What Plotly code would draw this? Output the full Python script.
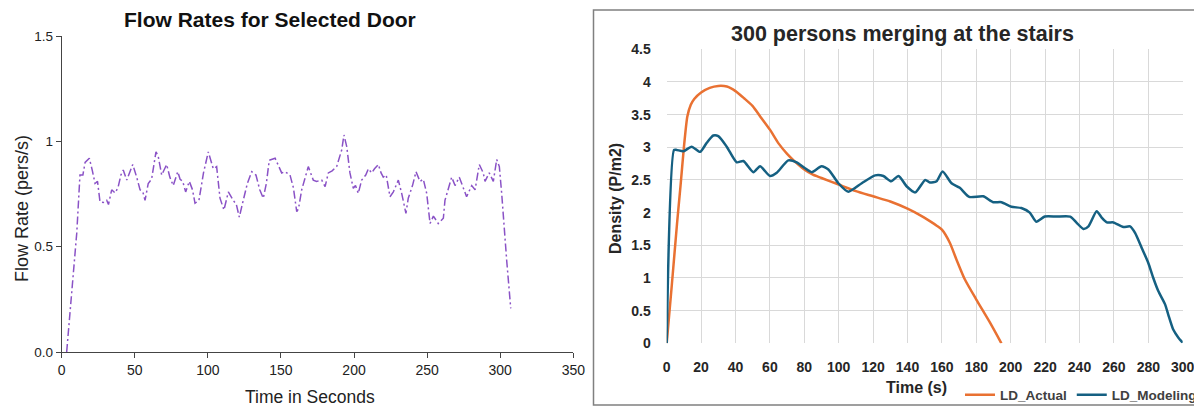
import plotly.graph_objects as go

# ---------------- Left chart data: Flow Rates for Selected Door ----------------
flow_time = [3.4, 10.3, 12.5, 14.5, 16, 18.9, 21, 22.8, 24.5, 26.2, 28.5, 30.8, 32, 34.2, 36.5,
             38.5, 40.5, 42.1, 44.5, 46.5, 48.6, 51.3, 53.6, 55.5, 57, 59.2, 61.5, 64.5, 66,
             68.4, 71.8, 74, 76.3, 79.4, 81, 82.8, 84.8, 87.3, 89.5, 91.2, 93.9, 97, 100.3,
             103.7, 106, 108.3, 111, 114, 115.5, 117.4, 119.5, 121.5, 124.2, 127, 130, 132.9,
             135.5, 137.9, 140, 142, 146, 148.5, 150.5, 152.8, 156.2, 158.5, 160.8, 162, 164.2,
             168.7, 172.1, 174.4, 177.9, 180.2, 182.4, 185, 188.1, 191.6, 193.1, 195, 197.2,
             199.5, 201, 202.9, 205.2, 208, 209.8, 212.1, 214, 216.6, 218.5, 220, 222, 224.6,
             226.9, 230.3, 232.6, 235.5, 237.1, 240, 242.4, 245.1, 247.4, 249.7, 252, 254.3,
             257.6, 261.1, 262.2, 266.8, 269.1, 272, 274.3, 277, 280.5, 282.8, 285.7, 288.4,
             289.6, 292.5, 295.3, 297.6, 299.4, 301, 304.4, 307.2]
flow_rate = [0, 0.565, 0.84, 0.84, 0.9, 0.92, 0.86, 0.80, 0.81, 0.713, 0.71, 0.72, 0.70, 0.77, 0.755,
             0.78, 0.84, 0.864, 0.816, 0.85, 0.89, 0.83, 0.77, 0.76, 0.72, 0.80, 0.82, 0.95, 0.93,
             0.84, 0.89, 0.83, 0.79, 0.856, 0.82, 0.81, 0.76, 0.81, 0.77, 0.706, 0.72, 0.85, 0.95,
             0.87, 0.88, 0.73, 0.674, 0.76, 0.74, 0.72, 0.70, 0.64, 0.72, 0.80, 0.856, 0.84,
             0.77, 0.73, 0.80, 0.91, 0.92, 0.88, 0.85, 0.856, 0.84, 0.78, 0.666, 0.68, 0.77,
             0.88, 0.816, 0.81, 0.816, 0.785, 0.85, 0.86, 0.88, 0.96, 1.03, 0.975, 0.85,
             0.777, 0.79, 0.753, 0.816, 0.84, 0.87, 0.85, 0.87, 0.89, 0.85, 0.83, 0.84, 0.737,
             0.76, 0.816, 0.753, 0.658, 0.73, 0.79, 0.856, 0.81, 0.82, 0.753, 0.61, 0.645,
             0.61, 0.635, 0.72, 0.83, 0.79, 0.83, 0.785, 0.737, 0.79, 0.77, 0.89, 0.85,
             0.81, 0.85, 0.81, 0.914, 0.88, 0.753, 0.437, 0.207]
flow_xticks = [0, 50, 100, 150, 200, 250, 300, 350]
flow_yticks = [0, 0.5, 1, 1.5]
flow_yticktext = ["0.0", "0.5", "1", "1.5"]

# ---------------- Right chart data: 300 persons merging at the stairs ----------------
actual_time = [0, 3, 6, 8, 10, 12, 14, 16, 20, 25, 30, 35, 40, 45, 50, 55, 60, 65, 70, 75, 80, 85,
               90, 100, 110, 120, 130, 140, 148, 153, 157, 160, 164.6, 168.5, 173.3, 180, 187.9, 194.6]
actual_density = [0, 0.9, 1.83, 2.4, 3.0, 3.47, 3.65, 3.74, 3.84, 3.91, 3.94, 3.93, 3.86, 3.75, 3.63,
                  3.45, 3.27, 3.06, 2.9, 2.77, 2.66, 2.58, 2.53, 2.43, 2.33, 2.25, 2.17, 2.06, 1.95,
                  1.87, 1.80, 1.74, 1.54, 1.28, 0.98, 0.67, 0.32, 0]
model_time = [0, 4.3, 5.8, 9.7, 14.5, 19.4, 23.3, 27.1, 30, 34.9, 40.7, 44.6, 50.4, 54.3, 60.1, 64,
              70.7, 75.6, 80.4, 84.3, 90, 94, 99.8, 105.6, 113.4, 121.2, 126, 130.5, 134.8, 139.6,
              144.5, 150.3, 153, 156.9, 160.4, 165.6, 170.4, 175.9, 184, 189.8, 194.6, 200.4, 206.2,
              211.1, 214.9, 219.8, 226.5, 234.6, 238.5, 242.3, 245.2, 250, 253, 255.9, 259.7, 265.5,
              269.4, 272.3, 276.2, 280, 282.9, 285.8, 289.7, 291.6, 294.5, 297.4, 300]
model_density = [0, 2.96, 2.96, 2.94, 3.01, 2.93, 3.07, 3.18, 3.17, 3.01, 2.77, 2.79, 2.62, 2.71,
                 2.56, 2.61, 2.80, 2.77, 2.68, 2.62, 2.71, 2.66, 2.45, 2.32, 2.45, 2.57, 2.56, 2.48,
                 2.56, 2.40, 2.31, 2.50, 2.46, 2.48, 2.63, 2.45, 2.38, 2.24, 2.25, 2.16, 2.16, 2.09,
                 2.07, 2.0, 1.86, 1.94, 1.94, 1.94, 1.84, 1.75, 1.79, 2.02, 1.92, 1.85, 1.85, 1.78,
                 1.79, 1.69, 1.46, 1.23, 1.0, 0.80, 0.60, 0.44, 0.21, 0.09, 0.01]
stairs_xticks = list(range(0, 301, 20))
stairs_yticks = [0, 0.5, 1, 1.5, 2, 2.5, 3, 3.5, 4, 4.5]
stairs_yticktext = ["0", "0.5", "1", "1.5", "2", "2.5", "3", "3.5", "4", "4.5"]

# The page body adds an 8px margin, so the figure is drawn 8px in from the window corner.
OFF = 8
W, H = 1202 - OFF, 410 - OFF
SANS = "Liberation Sans, Arial, sans-serif"


def px_x(p):
    return (p - OFF) / W


def px_y(p):
    return 1 - (p - OFF) / H


fig = go.Figure()

fig.add_trace(go.Scatter(
    x=flow_time, y=flow_rate, mode="lines", showlegend=False,
    line=dict(color="#8A52C6", width=1.5, dash="8px,3px,2px,3px"),
    xaxis="x", yaxis="y",
))
fig.add_trace(go.Scatter(
    x=actual_time, y=actual_density, mode="lines", name="LD_Actual",
    line=dict(color="#E97132", width=2.5, shape="spline", smoothing=0.6),
    xaxis="x2", yaxis="y2",
))
fig.add_trace(go.Scatter(
    x=model_time, y=model_density, mode="lines", name="LD_Modeling",
    line=dict(color="#156082", width=2.5, shape="spline", smoothing=0.6),
    xaxis="x2", yaxis="y2",
))

fig.update_layout(
    width=W, height=H,
    margin=dict(l=0, r=0, t=0, b=0, autoexpand=False),
    paper_bgcolor="white", plot_bgcolor="white",
    xaxis=dict(
        domain=[px_x(61.7), px_x(573.3)], range=[0, 350], anchor="y",
        tickvals=flow_xticks, showline=True, linecolor="#444", linewidth=1,
        ticks="outside", ticklen=5, tickcolor="#444", showgrid=False, zeroline=False,
        tickfont=dict(family=SANS, size=14, color="#222"),
    ),
    yaxis=dict(
        domain=[px_y(352), px_y(36)], range=[0, 1.5], anchor="x",
        tickvals=flow_yticks, ticktext=flow_yticktext, showline=True, linecolor="#444",
        linewidth=1, ticks="outside", ticklen=5, tickcolor="#444", showgrid=False,
        zeroline=False, tickfont=dict(family=SANS, size=13.5, color="#222"),
    ),
    xaxis2=dict(
        domain=[px_x(666.7), px_x(1182.7)], range=[0, 300], anchor="y2",
        tickvals=stairs_xticks, showgrid=True, gridcolor="#D9D9D9", gridwidth=1,
        showline=False, zeroline=False, ticks="", ticklabelstandoff=14,
        tickfont=dict(family=SANS, size=14, color="#262626", weight="bold"),
    ),
    yaxis2=dict(
        domain=[px_y(343.3), px_y(49.3)], range=[0, 4.5], anchor="x2",
        tickvals=stairs_yticks, ticktext=stairs_yticktext, showgrid=True,
        gridcolor="#D9D9D9", gridwidth=1, showline=False, zeroline=False, ticks="",
        ticklabelstandoff=15,
        tickfont=dict(family=SANS, size=14, color="#262626", weight="bold"),
    ),
    legend=dict(
        orientation="h", x=1.0, xanchor="right", y=px_y(395), yanchor="middle",
        bgcolor="rgba(0,0,0,0)", font=dict(family=SANS, size=13.5, color="#404040", weight="bold"),
        itemwidth=30, tracegroupgap=0,
    ),
    shapes=[dict(
        type="rect", xref="paper", yref="paper",
        x0=px_x(593.5), x1=px_x(1199.5), y0=px_y(405), y1=px_y(10),
        line=dict(color="#808080", width=1.5), fillcolor="rgba(0,0,0,0)", layer="below",
    )],
    annotations=[
        dict(text="<b>Flow Rates for Selected Door</b>", xref="paper", yref="paper",
             x=px_x(270), y=px_y(19), xanchor="center", yanchor="middle", showarrow=False,
             font=dict(family=SANS, size=21, color="#111")),
        dict(text="Flow Rate (pers/s)", xref="paper", yref="paper",
             x=px_x(22), y=px_y(209), xanchor="center", yanchor="middle", showarrow=False,
             textangle=-90, font=dict(family=SANS, size=18, color="#222")),
        dict(text="Time in Seconds", xref="paper", yref="paper",
             x=px_x(310), y=px_y(397), xanchor="center", yanchor="middle", showarrow=False,
             font=dict(family=SANS, size=17.5, color="#222")),
        dict(text="<b>300 persons merging at the stairs</b>", xref="paper", yref="paper",
             x=px_x(902), y=px_y(34), xanchor="center", yanchor="middle", showarrow=False,
             font=dict(family=SANS, size=21.5, color="#262626")),
        dict(text="<b>Density (P/m2)</b>", xref="paper", yref="paper",
             x=px_x(615), y=px_y(199), xanchor="center", yanchor="middle", showarrow=False,
             textangle=-90, font=dict(family=SANS, size=16, color="#262626")),
        dict(text="<b>Time (s)</b>", xref="paper", yref="paper",
             x=px_x(916), y=px_y(387), xanchor="center", yanchor="middle", showarrow=False,
             font=dict(family=SANS, size=16, color="#262626")),
    ],
)

fig.write_html("out.html")
